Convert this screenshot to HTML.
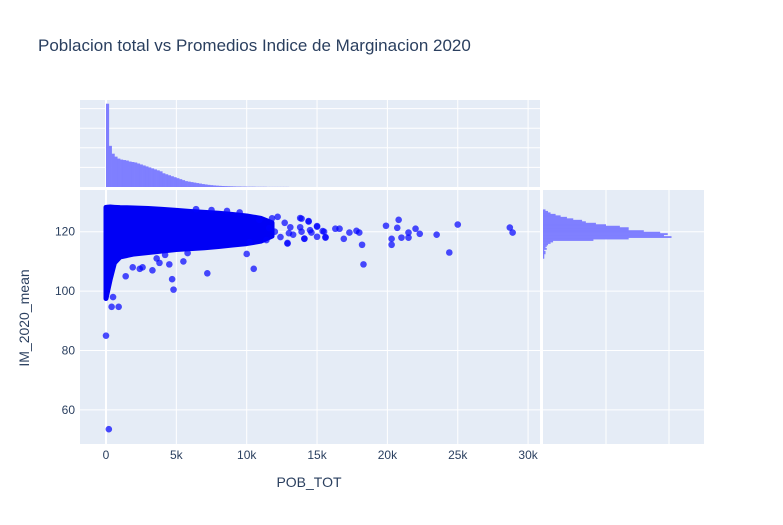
<!DOCTYPE html>
<html><head><meta charset="utf-8">
<style>
body{margin:0;background:#fff;}
svg{display:block;font-family:"Liberation Sans",sans-serif;}
</style></head>
<body>
<svg id="chart" width="783" height="525">
<rect width="783" height="525" fill="#fff"/>
<text x="38" y="51" font-size="17" fill="#2a3f5f">Poblacion total vs Promedios Indice de Marginacion 2020</text>
<g id="main"></g>
</svg>
<script>
// ---- data ----
const xTicks=[0,5,10,15,20,25,30];
const xTickLabels=["0","5k","10k","15k","20k","25k","30k"];
const yTicks=[60,80,100,120];
// dense cloud envelope (POB_TOT in k)
const envX=[0,0.3,0.6,1,2,3,4,5,6,7,8,9,10,11,11.8];
const envTop=[128.2,128.3,128.2,128.1,128,127.8,127.5,127.2,126.8,126.5,126.2,125.8,125.3,124.5,123];
const envBot=[97.5,104,109.5,111.5,112.5,113,113.5,114,114.3,114.6,115,115.5,116,116.8,118.5];
// outlier / edge points
const ptX=[25,28.7,28.9,24.4,23.5,22.3,22,21.5,21.5,21,20.8,20.7,20.3,20.3,19.9,18.2,18,17.8,17.3,16.9,16.6,16.3,15.6,15.5,15,15,14.6,14.4,14.1,13.9,13.9,12.9,10,18.3,10.5,7.2,4.7,4.8,0,0.2,0.4,0.9,0.5,2.4,3.3,1.4,4.5,5.5,3.8,2.6,1.9,3.6,
12.2,13.8,14.4,15,15.4,15.6,12.9,13.8,14.1,13.3,12.7,13.1,14.5,11.6,12.4,11.4,11.8,10.9,10.2,12,13,9.5,8.6,7.5,6.4,5.8,4.2];
const ptY=[122.4,121.4,119.7,113,119,119.3,121,119.7,118,118,124,121.3,117.6,115.6,122,115.6,119.7,120.3,119.7,117.6,121,121,118,120,121.7,118.3,119.7,123.4,117.6,124.4,120,116,112.5,109,107.5,106,104,100.5,85,53.5,94.7,94.7,98,107.5,107,105,109,110,109.5,108,108,111,
125,124.6,123.6,121.9,120.2,118.2,116.2,121.5,117.7,119,123,121.5,120.5,121.2,118.2,117.2,124.5,124,116.5,120,119.5,126.5,127,127.3,127.6,112.8,112.2];
// top histogram (bin width 0.2k, counts)
const histXCounts=[85,42,34,31,29,28,27.5,27,26,25.5,25,24,23,22,21,20,19,18,17,16,14,13,12,11,10,9,8,7,6,5.5,5,4.5,4,3.5,3,2.6,2.2,1.9,1.6,1.4,1.2,1,0.9,0.8,0.7,0.6,0.5,0.5,0.4,0.4,0.3,0.3,0.3,0.2,0.2,0.2,0.2,0.1,0.1,0.1,0.1,0.1,0.1,0.1,0.1];
// right histogram (bins of 0.5, starting at 127)
const histYBins=[127,126.5,126,125.5,125,124.5,124,123.5,123,122.5,122,121.5,121,120.5,120,119.5,119,118.5,118,117.5,117,116.5,116,115.5,115,114.5,114,113.5,113,112.5,112,111.5,111];
const histYCounts=[2,4,6,10,14,19,24,31,34,42,50,61,68,68,80,93,99,96,102,68,40,8,6,4,3,2,3,1,2,2,1,1,1];

// ---- layout ----
const NS="http://www.w3.org/2000/svg";
const g=document.getElementById('main');
const X=v=>106+v*14.07;
const Y=v=>231.7-(v-120)*2.97;
const HX=c=>187-c*0.98;
const HY=c=>543+c*1.26;
function mk(tag,attrs,parent){const e=document.createElementNS(NS,tag);for(const k in attrs)e.setAttribute(k,attrs[k]);(parent||g).appendChild(e);return e;}

let e;
e=mk('rect',{x:80,y:190,width:460,height:254,fill:'#e5ecf6'});


e=mk('rect',{x:80,y:100,width:460,height:87,fill:'#e5ecf6'});


e=mk('rect',{x:543,y:190,width:161,height:254,fill:'#e5ecf6'});



xTicks.forEach((t,i)=>{
  mk('line',{x1:X(t),x2:X(t),y1:190,y2:444,stroke:'#fff','stroke-width':i==0?2:1});
  mk('line',{x1:X(t),x2:X(t),y1:100,y2:187,stroke:'#fff','stroke-width':i==0?2:1});
  e=mk('text',{x:X(t),y:459,'font-size':12,fill:'#2a3f5f','text-anchor':'middle'});
  e.textContent=xTickLabels[i];
  
  
});
yTicks.forEach(t=>{
  mk('line',{x1:80,x2:540,y1:Y(t),y2:Y(t),stroke:'#fff','stroke-width':1});
  mk('line',{x1:543,x2:704,y1:Y(t),y2:Y(t),stroke:'#fff','stroke-width':1});
  e=mk('text',{x:75,y:Y(t)+4,'font-size':12,fill:'#2a3f5f','text-anchor':'end'});
  e.textContent=t;
  
  
});
[20,40,60,80].forEach(c=>mk('line',{x1:80,x2:540,y1:HX(c),y2:HX(c),stroke:'#fff','stroke-width':1}));
[50,100].forEach(c=>mk('line',{x1:HY(c),x2:HY(c),y1:190,y2:444,stroke:'#fff','stroke-width':1}));

const hTop=mk('g',{fill:'#7f7fff'});
histXCounts.forEach((c,i)=>{
  const x0=X(i*0.2),x1=X((i+1)*0.2);
  e=mk('rect',{x:x0,y:HX(c),width:x1-x0+0.3,height:187-HX(c)},hTop);
  
  
});
const hRight=mk('g',{fill:'#7f7fff'});
histYBins.forEach((b,i)=>{
  const c=histYCounts[i];
  if(!c)return;
  e=mk('rect',{x:543,y:Y(b+0.5),width:HY(c)-543,height:Y(b)-Y(b+0.5)+0.3},hRight);
  
  
});

let pts=envX.map((x,i)=>X(x)+','+Y(envTop[i]));
for(let i=envX.length-1;i>=0;i--)pts.push(X(envX[i])+','+Y(envBot[i]));
e=mk('polygon',{points:pts.join(' '),fill:'#0000f5',stroke:'#0000f5','stroke-width':5,'stroke-linejoin':'round'});


ptX.forEach((x,i)=>{
  e=mk('circle',{cx:X(x),cy:Y(ptY[i]),r:3.3,fill:'rgba(0,0,255,0.7)'});
  
  
});

e=mk('text',{x:309,y:487,'font-size':14,fill:'#2a3f5f','text-anchor':'middle'});
e.textContent='POB_TOT';


e=mk('text',{x:0,y:0,'font-size':14,fill:'#2a3f5f','text-anchor':'middle',transform:'translate(29,318) rotate(-90)'});
e.textContent='IM_2020_mean';


</script>
</body></html>
